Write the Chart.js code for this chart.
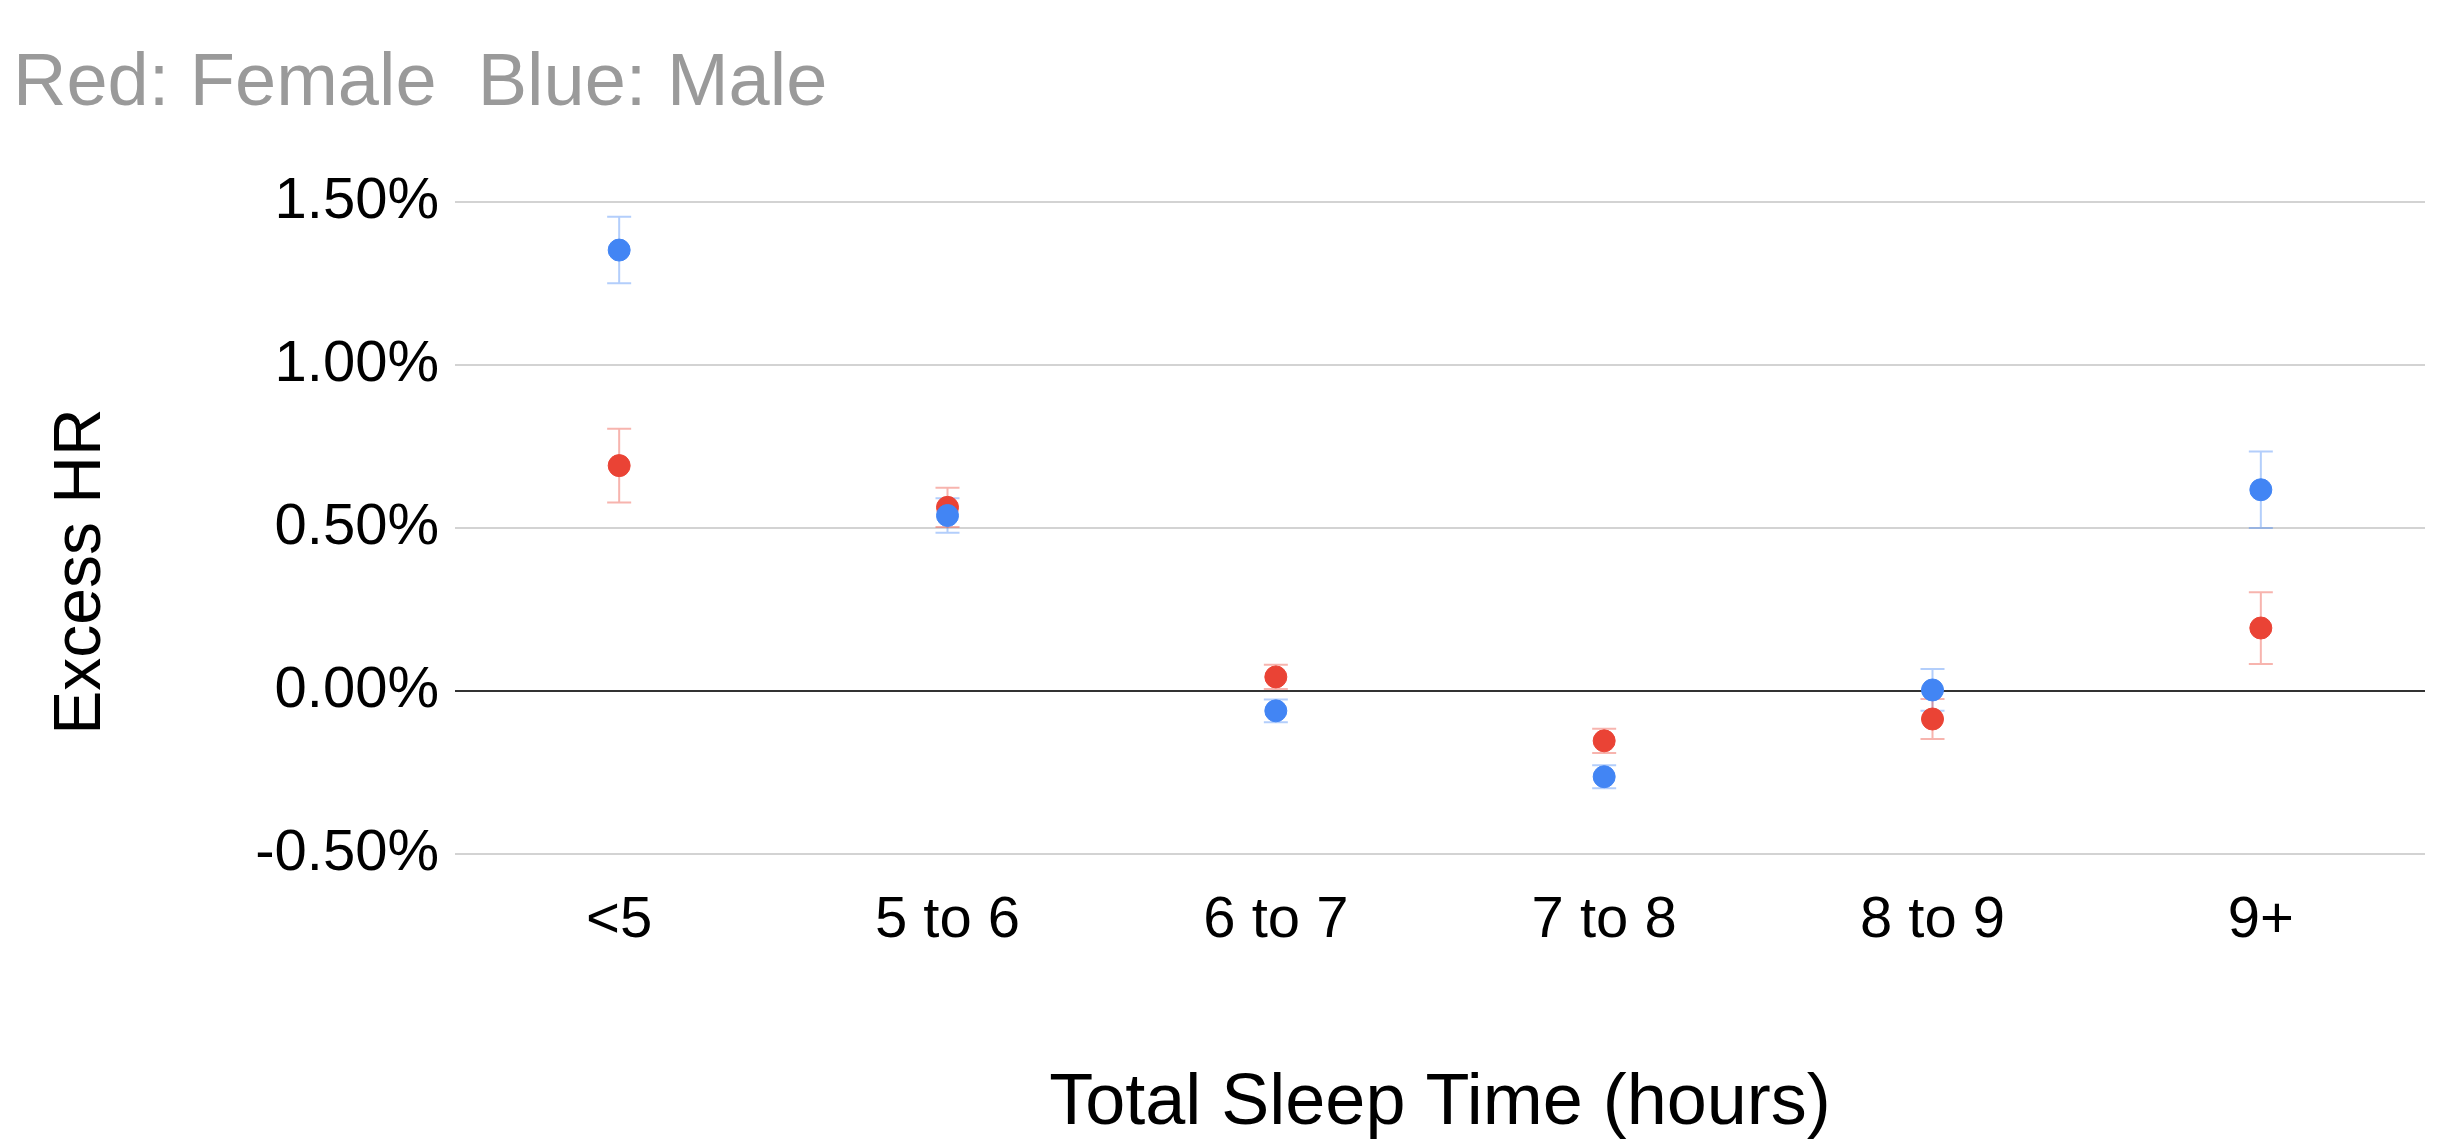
<!DOCTYPE html>
<html>
<head>
<meta charset="utf-8">
<script src="https://cdn.jsdelivr.net/npm/chart.js@4.4.1/dist/chart.umd.min.js"></script>
<style>
  html, body { margin: 0; padding: 0; background: #fff; }
  #wrap { width: 2458px; height: 1143px; }
</style>
</head>
<body>
<div id="wrap"><canvas id="chart" width="2458" height="1143"></canvas></div>
<script>
'use strict';

// Sleep-duration buckets (x axis)
const categories = ['<5', '5 to 6', '6 to 7', '7 to 8', '8 to 9', '9+'];

// Excess HR in percent
const maleValues = [1.352, 0.538, -0.061, -0.263, 0.003, 0.617];
const maleErrors = [0.102, 0.053, 0.035, 0.035, 0.064, 0.117];
const femaleValues = [0.691, 0.563, 0.043, -0.153, -0.086, 0.193];
const femaleErrors = [0.113, 0.060, 0.037, 0.037, 0.061, 0.110];

// Y axis ticks
const yTicks = [-0.5, 0, 0.5, 1.0, 1.5];

const BLUE = '#4285f4';
const RED = '#ea4335';
const FONT = "'Liberation Sans', Arial, sans-serif";

/**
 * Draws +/- error whiskers under the points
 */
const errorBarPlugin = {
  id: 'errorBars',
  beforeDatasetsDraw(chart) {
    const { ctx } = chart;
    const yScale = chart.scales.y;
    chart.data.datasets.forEach((ds, i) => {
      const meta = chart.getDatasetMeta(i);
      ctx.save();
      ctx.strokeStyle = ds.errorColor;
      ctx.lineWidth = 2;
      meta.data.forEach((pt, j) => {
        const v = ds.data[j];
        const e = ds.errors[j];
        const top = yScale.getPixelForValue(v + e);
        const bottom = yScale.getPixelForValue(v - e);
        const x = pt.x;
        const cap = 12;
        ctx.beginPath();
        ctx.moveTo(x, top);
        ctx.lineTo(x, bottom);
        ctx.moveTo(x - cap, top);
        ctx.lineTo(x + cap, top);
        ctx.moveTo(x - cap, bottom);
        ctx.lineTo(x + cap, bottom);
        ctx.stroke();
      });
      ctx.restore();
    });
  },
};

/**
 * Y axis title, centred on the whole canvas height (not the plot area)
 */
const yTitlePlugin = {
  id: 'yTitle',
  afterDraw(chart) {
    const { ctx } = chart;
    ctx.save();
    ctx.translate(82, chart.height / 2);
    ctx.rotate(-Math.PI / 2);
    ctx.fillStyle = '#000';
    ctx.font = `66px ${FONT}`;
    ctx.textAlign = 'center';
    ctx.textBaseline = 'middle';
    ctx.fillText('Excess HR', 0, 0);
    ctx.restore();
  },
};

new Chart(document.getElementById('chart'), {
  type: 'line',
  data: {
    labels: categories,
    datasets: [
      {
        label: 'Male',
        data: maleValues,
        errors: maleErrors,
        errorColor: 'rgba(66,133,244,0.4)',
        showLine: false,
        pointRadius: 11,
        pointBackgroundColor: BLUE,
        pointBorderColor: BLUE,
        pointBorderWidth: 1,
      },
      {
        label: 'Female',
        data: femaleValues,
        errors: femaleErrors,
        errorColor: 'rgba(234,67,53,0.4)',
        showLine: false,
        pointRadius: 11,
        pointBackgroundColor: RED,
        pointBorderColor: RED,
        pointBorderWidth: 1,
      },
    ],
  },
  options: {
    responsive: false,
    animation: false,
    layout: { padding: { left: 13, right: 33, top: 0, bottom: 0 } },
    plugins: {
      legend: { display: false },
      tooltip: { enabled: false },
      title: {
        display: true,
        text: 'Red: Female  Blue: Male',
        align: 'start',
        color: '#9a9a9a',
        font: { family: FONT, size: 74, weight: 'normal' },
        padding: { top: 40, bottom: 73 },
      },
    },
    scales: {
      x: {
        offset: true,
        grid: { display: false, drawTicks: false },
        border: { display: false },
        ticks: {
          color: '#000',
          padding: 32,
          font: { family: FONT, size: 58 },
          maxRotation: 0,
        },
        title: {
          display: true,
          text: 'Total Sleep Time (hours)',
          color: '#000',
          font: { family: FONT, size: 72, lineHeight: 1.0 },
          padding: { top: 0, bottom: 3 },
        },
        afterFit: (scale) => { scale.height = 289; },
      },
      y: {
        min: -0.5,
        max: 1.5,
        afterBuildTicks: (scale) => { scale.ticks = yTicks.map((v) => ({ value: v })); },
        grid: {
          drawTicks: false,
          color: (c) => (c.tick && c.tick.value === 0 ? '#333333' : '#d3d3d3'),
          lineWidth: 2,
        },
        border: { display: false },
        ticks: {
          color: '#000',
          padding: 16,
          font: { family: FONT, size: 58 },
          callback: (v) => `${Number(v).toFixed(2)}%`,
        },
        afterFit: (scale) => { scale.width = 442; },
      },
    },
  },
  plugins: [errorBarPlugin, yTitlePlugin],
});
</script>
</body>
</html>
